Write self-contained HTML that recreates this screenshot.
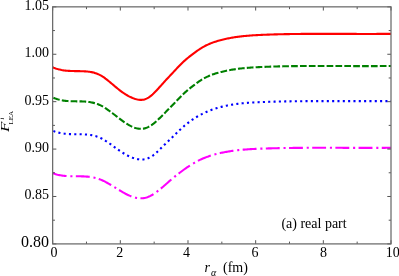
<!DOCTYPE html>
<html><head><meta charset="utf-8">
<style>
html,body{margin:0;padding:0;background:#fff;}
body{width:399px;height:276px;overflow:hidden;font-family:"Liberation Serif",serif;}
svg{display:block;will-change:transform;}
text{font-family:"Liberation Serif",serif;fill:#000;}
</style></head><body>
<svg width="399" height="276" viewBox="0 0 399 276">
<rect x="0" y="0" width="399" height="276" fill="#fff"/>
<g fill="none" stroke-width="2.1" stroke-linejoin="round">
<path d="M52.6,67.29 L53.6,67.71 L54.6,68.10 L55.6,68.46 L56.6,68.79 L57.6,69.09 L58.6,69.36 L59.6,69.60 L60.6,69.82 L61.6,70.02 L62.6,70.19 L63.6,70.35 L64.6,70.48 L65.6,70.60 L66.6,70.70 L67.6,70.78 L68.6,70.85 L69.6,70.91 L70.6,70.96 L71.6,71.00 L72.6,71.03 L73.6,71.06 L74.6,71.08 L75.6,71.10 L76.6,71.11 L77.6,71.13 L78.6,71.14 L79.6,71.16 L80.6,71.18 L81.6,71.21 L82.6,71.24 L83.6,71.28 L84.6,71.33 L85.6,71.39 L86.6,71.47 L87.6,71.56 L88.6,71.67 L89.6,71.81 L90.6,71.96 L91.6,72.15 L92.6,72.36 L93.6,72.60 L94.6,72.88 L95.6,73.19 L96.6,73.54 L97.6,73.93 L98.6,74.37 L99.6,74.85 L100.6,75.37 L101.6,75.95 L102.6,76.57 L103.6,77.22 L104.6,77.91 L105.5,78.64 L106.5,79.39 L107.5,80.17 L108.5,80.97 L109.5,81.78 L110.5,82.61 L111.5,83.45 L112.5,84.30 L113.5,85.15 L114.5,86.00 L115.5,86.84 L116.5,87.67 L117.5,88.49 L118.5,89.30 L119.5,90.09 L120.5,90.85 L121.5,91.59 L122.5,92.31 L123.5,93.00 L124.5,93.67 L125.5,94.31 L126.5,94.92 L127.5,95.51 L128.5,96.06 L129.5,96.58 L130.5,97.08 L131.5,97.53 L132.5,97.96 L133.5,98.35 L134.5,98.70 L135.5,99.02 L136.5,99.30 L137.5,99.53 L138.5,99.71 L139.5,99.83 L140.5,99.90 L141.5,99.89 L142.5,99.81 L143.5,99.65 L144.5,99.41 L145.5,99.07 L146.5,98.65 L147.5,98.13 L148.5,97.54 L149.5,96.87 L150.5,96.13 L151.5,95.33 L152.5,94.47 L153.5,93.56 L154.5,92.60 L155.5,91.60 L156.5,90.57 L157.4,89.50 L158.4,88.42 L159.4,87.32 L160.4,86.20 L161.4,85.08 L162.4,83.96 L163.4,82.85 L164.4,81.75 L165.4,80.65 L166.4,79.57 L167.4,78.50 L168.4,77.43 L169.4,76.36 L170.4,75.30 L171.4,74.24 L172.4,73.17 L173.4,72.11 L174.4,71.04 L175.4,69.97 L176.4,68.90 L177.4,67.84 L178.4,66.79 L179.4,65.76 L180.4,64.74 L181.4,63.74 L182.4,62.76 L183.4,61.81 L184.4,60.89 L185.4,59.99 L186.4,59.12 L187.4,58.27 L188.4,57.44 L189.4,56.64 L190.4,55.84 L191.4,55.07 L192.4,54.31 L193.4,53.56 L194.4,52.83 L195.4,52.10 L196.4,51.38 L197.4,50.68 L198.4,49.99 L199.4,49.32 L200.4,48.67 L201.4,48.04 L202.4,47.44 L203.4,46.87 L204.4,46.32 L205.4,45.80 L206.4,45.30 L207.4,44.83 L208.4,44.37 L209.3,43.94 L210.3,43.52 L211.3,43.12 L212.3,42.74 L213.3,42.38 L214.3,42.04 L215.3,41.70 L216.3,41.39 L217.3,41.08 L218.3,40.79 L219.3,40.51 L220.3,40.24 L221.3,39.97 L222.3,39.72 L223.3,39.47 L224.3,39.24 L225.3,39.01 L226.3,38.79 L227.3,38.58 L228.3,38.38 L229.3,38.18 L230.3,37.99 L231.3,37.81 L232.3,37.64 L233.3,37.47 L234.3,37.31 L235.3,37.16 L236.3,37.01 L237.3,36.87 L238.3,36.74 L239.3,36.61 L240.3,36.48 L241.3,36.37 L242.3,36.25 L243.3,36.15 L244.3,36.04 L245.3,35.95 L246.3,35.85 L247.3,35.77 L248.3,35.68 L249.3,35.60 L250.3,35.53 L251.3,35.45 L252.3,35.38 L253.3,35.32 L254.3,35.26 L255.3,35.20 L256.3,35.14 L257.3,35.09 L258.3,35.04 L259.3,34.99 L260.3,34.94 L261.2,34.89 L262.2,34.85 L263.2,34.81 L264.2,34.77 L265.2,34.73 L266.2,34.69 L267.2,34.65 L268.2,34.62 L269.2,34.58 L270.2,34.55 L271.2,34.52 L272.2,34.48 L273.2,34.45 L274.2,34.42 L275.2,34.39 L276.2,34.37 L277.2,34.34 L278.2,34.31 L279.2,34.29 L280.2,34.26 L281.2,34.24 L282.2,34.22 L283.2,34.19 L284.2,34.17 L285.2,34.15 L286.2,34.13 L287.2,34.11 L288.2,34.09 L289.2,34.08 L290.2,34.06 L291.2,34.04 L292.2,34.03 L293.2,34.01 L294.2,34.00 L295.2,33.99 L296.2,33.97 L297.2,33.96 L298.2,33.95 L299.2,33.94 L300.2,33.93 L301.2,33.92 L302.2,33.91 L303.2,33.90 L304.2,33.90 L305.2,33.89 L306.2,33.88 L307.2,33.88 L308.2,33.87 L309.2,33.87 L310.2,33.86 L311.2,33.86 L312.2,33.85 L313.1,33.85 L314.1,33.85 L315.1,33.84 L316.1,33.84 L317.1,33.84 L318.1,33.84 L319.1,33.84 L320.1,33.84 L321.1,33.84 L322.1,33.84 L323.1,33.84 L324.1,33.84 L325.1,33.84 L326.1,33.84 L327.1,33.84 L328.1,33.84 L329.1,33.84 L330.1,33.84 L331.1,33.85 L332.1,33.85 L333.1,33.85 L334.1,33.85 L335.1,33.86 L336.1,33.86 L337.1,33.86 L338.1,33.87 L339.1,33.87 L340.1,33.87 L341.1,33.88 L342.1,33.88 L343.1,33.88 L344.1,33.89 L345.1,33.89 L346.1,33.89 L347.1,33.90 L348.1,33.90 L349.1,33.90 L350.1,33.91 L351.1,33.91 L352.1,33.91 L353.1,33.92 L354.1,33.92 L355.1,33.92 L356.1,33.92 L357.1,33.93 L358.1,33.93 L359.1,33.93 L360.1,33.93 L361.1,33.93 L362.1,33.94 L363.1,33.94 L364.1,33.94 L365.0,33.94 L366.0,33.94 L367.0,33.94 L368.0,33.94 L369.0,33.94 L370.0,33.94 L371.0,33.94 L372.0,33.94 L373.0,33.93 L374.0,33.93 L375.0,33.93 L376.0,33.93 L377.0,33.92 L378.0,33.92 L379.0,33.92 L380.0,33.91 L381.0,33.91 L382.0,33.90 L383.0,33.89 L384.0,33.89 L385.0,33.88 L386.0,33.87 L387.0,33.86 L388.0,33.86 L389.0,33.85 L390.0,33.84 L391.0,33.83" stroke="#ff0000"/>
<path d="M52.6,97.30 L53.6,97.76 L54.6,98.19 L55.6,98.58 L56.6,98.93 L57.6,99.26 L58.6,99.55 L59.6,99.81 L60.6,100.04 L61.6,100.25 L62.6,100.43 L63.6,100.59 L64.6,100.73 L65.6,100.85 L66.6,100.95 L67.6,101.04 L68.6,101.11 L69.6,101.16 L70.6,101.21 L71.6,101.24 L72.6,101.27 L73.6,101.29 L74.6,101.31 L75.6,101.32 L76.6,101.33 L77.6,101.34 L78.6,101.35 L79.6,101.37 L80.6,101.39 L81.6,101.42 L82.6,101.45 L83.6,101.50 L84.6,101.55 L85.6,101.62 L86.6,101.71 L87.6,101.81 L88.6,101.93 L89.6,102.07 L90.6,102.23 L91.6,102.42 L92.6,102.62 L93.6,102.86 L94.6,103.12 L95.6,103.42 L96.6,103.74 L97.6,104.10 L98.6,104.49 L99.6,104.92 L100.6,105.39 L101.6,105.89 L102.6,106.43 L103.6,107.01 L104.6,107.61 L105.5,108.24 L106.5,108.90 L107.5,109.57 L108.5,110.27 L109.5,110.99 L110.5,111.72 L111.5,112.47 L112.5,113.23 L113.5,113.99 L114.5,114.76 L115.5,115.54 L116.5,116.31 L117.5,117.09 L118.5,117.86 L119.5,118.62 L120.5,119.38 L121.5,120.12 L122.5,120.86 L123.5,121.57 L124.5,122.27 L125.5,122.94 L126.5,123.59 L127.5,124.22 L128.5,124.81 L129.5,125.38 L130.5,125.91 L131.5,126.41 L132.5,126.86 L133.5,127.28 L134.5,127.65 L135.5,127.97 L136.5,128.25 L137.5,128.47 L138.5,128.65 L139.5,128.76 L140.5,128.82 L141.5,128.81 L142.5,128.74 L143.5,128.61 L144.5,128.40 L145.5,128.13 L146.5,127.78 L147.5,127.37 L148.5,126.89 L149.5,126.35 L150.5,125.75 L151.5,125.09 L152.5,124.39 L153.5,123.64 L154.5,122.85 L155.5,122.02 L156.5,121.16 L157.4,120.26 L158.4,119.33 L159.4,118.38 L160.4,117.41 L161.4,116.43 L162.4,115.43 L163.4,114.42 L164.4,113.40 L165.4,112.38 L166.4,111.36 L167.4,110.33 L168.4,109.30 L169.4,108.28 L170.4,107.25 L171.4,106.22 L172.4,105.20 L173.4,104.18 L174.4,103.16 L175.4,102.15 L176.4,101.13 L177.4,100.11 L178.4,99.08 L179.4,98.04 L180.4,97.01 L181.4,95.99 L182.4,94.99 L183.4,94.01 L184.4,93.06 L185.4,92.14 L186.4,91.25 L187.4,90.38 L188.4,89.54 L189.4,88.71 L190.4,87.91 L191.4,87.12 L192.4,86.34 L193.4,85.58 L194.4,84.82 L195.4,84.08 L196.4,83.34 L197.4,82.62 L198.4,81.91 L199.4,81.22 L200.4,80.55 L201.4,79.91 L202.4,79.30 L203.4,78.72 L204.4,78.17 L205.4,77.64 L206.4,77.14 L207.4,76.66 L208.4,76.21 L209.3,75.77 L210.3,75.36 L211.3,74.97 L212.3,74.60 L213.3,74.24 L214.3,73.91 L215.3,73.58 L216.3,73.28 L217.3,72.98 L218.3,72.70 L219.3,72.43 L220.3,72.16 L221.3,71.91 L222.3,71.67 L223.3,71.43 L224.3,71.20 L225.3,70.98 L226.3,70.77 L227.3,70.57 L228.3,70.37 L229.3,70.18 L230.3,70.00 L231.3,69.83 L232.3,69.66 L233.3,69.50 L234.3,69.34 L235.3,69.19 L236.3,69.05 L237.3,68.91 L238.3,68.78 L239.3,68.66 L240.3,68.54 L241.3,68.42 L242.3,68.31 L243.3,68.21 L244.3,68.11 L245.3,68.02 L246.3,67.93 L247.3,67.84 L248.3,67.76 L249.3,67.68 L250.3,67.61 L251.3,67.54 L252.3,67.47 L253.3,67.40 L254.3,67.34 L255.3,67.29 L256.3,67.23 L257.3,67.18 L258.3,67.13 L259.3,67.08 L260.3,67.03 L261.2,66.99 L262.2,66.95 L263.2,66.91 L264.2,66.87 L265.2,66.83 L266.2,66.79 L267.2,66.76 L268.2,66.72 L269.2,66.69 L270.2,66.65 L271.2,66.62 L272.2,66.59 L273.2,66.56 L274.2,66.53 L275.2,66.50 L276.2,66.48 L277.2,66.45 L278.2,66.42 L279.2,66.40 L280.2,66.37 L281.2,66.35 L282.2,66.33 L283.2,66.31 L284.2,66.29 L285.2,66.27 L286.2,66.25 L287.2,66.23 L288.2,66.21 L289.2,66.20 L290.2,66.18 L291.2,66.17 L292.2,66.15 L293.2,66.14 L294.2,66.13 L295.2,66.11 L296.2,66.10 L297.2,66.09 L298.2,66.08 L299.2,66.07 L300.2,66.06 L301.2,66.05 L302.2,66.04 L303.2,66.04 L304.2,66.03 L305.2,66.02 L306.2,66.02 L307.2,66.01 L308.2,66.01 L309.2,66.00 L310.2,66.00 L311.2,66.00 L312.2,65.99 L313.1,65.99 L314.1,65.99 L315.1,65.99 L316.1,65.98 L317.1,65.98 L318.1,65.98 L319.1,65.98 L320.1,65.98 L321.1,65.98 L322.1,65.98 L323.1,65.98 L324.1,65.99 L325.1,65.99 L326.1,65.99 L327.1,65.99 L328.1,65.99 L329.1,65.99 L330.1,66.00 L331.1,66.00 L332.1,66.00 L333.1,66.01 L334.1,66.01 L335.1,66.01 L336.1,66.01 L337.1,66.02 L338.1,66.02 L339.1,66.03 L340.1,66.03 L341.1,66.03 L342.1,66.04 L343.1,66.04 L344.1,66.04 L345.1,66.05 L346.1,66.05 L347.1,66.05 L348.1,66.06 L349.1,66.06 L350.1,66.07 L351.1,66.07 L352.1,66.07 L353.1,66.08 L354.1,66.08 L355.1,66.08 L356.1,66.08 L357.1,66.09 L358.1,66.09 L359.1,66.09 L360.1,66.09 L361.1,66.09 L362.1,66.10 L363.1,66.10 L364.1,66.10 L365.0,66.10 L366.0,66.10 L367.0,66.10 L368.0,66.10 L369.0,66.10 L370.0,66.10 L371.0,66.10 L372.0,66.09 L373.0,66.09 L374.0,66.09 L375.0,66.09 L376.0,66.08 L377.0,66.08 L378.0,66.08 L379.0,66.07 L380.0,66.07 L381.0,66.06 L382.0,66.05 L383.0,66.05 L384.0,66.04 L385.0,66.03 L386.0,66.02 L387.0,66.01 L388.0,66.00 L389.0,65.99 L390.0,65.98 L391.0,65.97" stroke="#008000" stroke-dasharray="6.7 2.171" stroke-dashoffset="-0.85"/>
<path d="M52.6,130.60 L53.6,131.01 L54.6,131.39 L55.6,131.74 L56.6,132.06 L57.6,132.35 L58.6,132.61 L59.6,132.85 L60.6,133.06 L61.6,133.25 L62.6,133.42 L63.6,133.56 L64.6,133.69 L65.6,133.80 L66.6,133.89 L67.6,133.97 L68.6,134.04 L69.6,134.09 L70.6,134.14 L71.6,134.17 L72.6,134.20 L73.6,134.22 L74.6,134.23 L75.6,134.24 L76.6,134.25 L77.6,134.26 L78.6,134.27 L79.6,134.29 L80.6,134.30 L81.6,134.32 L82.6,134.35 L83.6,134.38 L84.6,134.43 L85.6,134.48 L86.6,134.55 L87.6,134.64 L88.6,134.74 L89.6,134.86 L90.6,135.00 L91.6,135.16 L92.6,135.35 L93.6,135.56 L94.6,135.81 L95.6,136.08 L96.6,136.39 L97.6,136.73 L98.6,137.11 L99.6,137.52 L100.6,137.98 L101.6,138.47 L102.6,139.00 L103.6,139.57 L104.6,140.16 L105.5,140.78 L106.5,141.43 L107.5,142.10 L108.5,142.78 L109.5,143.49 L110.5,144.20 L111.5,144.92 L112.5,145.65 L113.5,146.38 L114.5,147.11 L115.5,147.84 L116.5,148.56 L117.5,149.28 L118.5,149.98 L119.5,150.66 L120.5,151.33 L121.5,151.99 L122.5,152.62 L123.5,153.23 L124.5,153.82 L125.5,154.39 L126.5,154.94 L127.5,155.46 L128.5,155.95 L129.5,156.42 L130.5,156.87 L131.5,157.28 L132.5,157.67 L133.5,158.03 L134.5,158.35 L135.5,158.65 L136.5,158.90 L137.5,159.13 L138.5,159.30 L139.5,159.44 L140.5,159.52 L141.5,159.56 L142.5,159.54 L143.5,159.45 L144.5,159.31 L145.5,159.10 L146.5,158.82 L147.5,158.47 L148.5,158.06 L149.5,157.58 L150.5,157.04 L151.5,156.44 L152.5,155.78 L153.5,155.07 L154.5,154.30 L155.5,153.47 L156.5,152.61 L157.4,151.70 L158.4,150.76 L159.4,149.80 L160.4,148.82 L161.4,147.83 L162.4,146.84 L163.4,145.85 L164.4,144.87 L165.4,143.90 L166.4,142.93 L167.4,141.97 L168.4,141.01 L169.4,140.06 L170.4,139.10 L171.4,138.14 L172.4,137.18 L173.4,136.21 L174.4,135.24 L175.4,134.26 L176.4,133.28 L177.4,132.30 L178.4,131.34 L179.4,130.37 L180.4,129.43 L181.4,128.49 L182.4,127.58 L183.4,126.69 L184.4,125.82 L185.4,124.98 L186.4,124.15 L187.4,123.36 L188.4,122.58 L189.4,121.82 L190.4,121.09 L191.4,120.38 L192.4,119.69 L193.4,119.01 L194.4,118.36 L195.4,117.73 L196.4,117.12 L197.4,116.52 L198.4,115.95 L199.4,115.39 L200.4,114.85 L201.4,114.33 L202.4,113.82 L203.4,113.33 L204.4,112.86 L205.4,112.40 L206.4,111.96 L207.4,111.53 L208.4,111.11 L209.3,110.72 L210.3,110.33 L211.3,109.96 L212.3,109.60 L213.3,109.25 L214.3,108.92 L215.3,108.60 L216.3,108.28 L217.3,107.98 L218.3,107.69 L219.3,107.42 L220.3,107.15 L221.3,106.89 L222.3,106.64 L223.3,106.40 L224.3,106.16 L225.3,105.94 L226.3,105.72 L227.3,105.52 L228.3,105.32 L229.3,105.13 L230.3,104.95 L231.3,104.77 L232.3,104.60 L233.3,104.44 L234.3,104.29 L235.3,104.14 L236.3,104.00 L237.3,103.87 L238.3,103.74 L239.3,103.62 L240.3,103.50 L241.3,103.39 L242.3,103.29 L243.3,103.19 L244.3,103.09 L245.3,103.00 L246.3,102.92 L247.3,102.84 L248.3,102.76 L249.3,102.69 L250.3,102.62 L251.3,102.55 L252.3,102.49 L253.3,102.43 L254.3,102.38 L255.3,102.33 L256.3,102.28 L257.3,102.23 L258.3,102.19 L259.3,102.14 L260.3,102.10 L261.2,102.07 L262.2,102.03 L263.2,101.99 L264.2,101.96 L265.2,101.92 L266.2,101.89 L267.2,101.86 L268.2,101.83 L269.2,101.80 L270.2,101.77 L271.2,101.74 L272.2,101.71 L273.2,101.69 L274.2,101.66 L275.2,101.63 L276.2,101.61 L277.2,101.58 L278.2,101.56 L279.2,101.54 L280.2,101.52 L281.2,101.49 L282.2,101.47 L283.2,101.45 L284.2,101.43 L285.2,101.41 L286.2,101.40 L287.2,101.38 L288.2,101.36 L289.2,101.35 L290.2,101.33 L291.2,101.31 L292.2,101.30 L293.2,101.29 L294.2,101.27 L295.2,101.26 L296.2,101.25 L297.2,101.24 L298.2,101.22 L299.2,101.21 L300.2,101.20 L301.2,101.19 L302.2,101.18 L303.2,101.17 L304.2,101.17 L305.2,101.16 L306.2,101.15 L307.2,101.14 L308.2,101.14 L309.2,101.13 L310.2,101.12 L311.2,101.12 L312.2,101.11 L313.1,101.11 L314.1,101.10 L315.1,101.10 L316.1,101.10 L317.1,101.09 L318.1,101.09 L319.1,101.09 L320.1,101.09 L321.1,101.08 L322.1,101.08 L323.1,101.08 L324.1,101.08 L325.1,101.08 L326.1,101.08 L327.1,101.08 L328.1,101.08 L329.1,101.08 L330.1,101.08 L331.1,101.08 L332.1,101.08 L333.1,101.08 L334.1,101.08 L335.1,101.08 L336.1,101.08 L337.1,101.08 L338.1,101.08 L339.1,101.08 L340.1,101.09 L341.1,101.09 L342.1,101.09 L343.1,101.09 L344.1,101.09 L345.1,101.10 L346.1,101.10 L347.1,101.10 L348.1,101.10 L349.1,101.10 L350.1,101.11 L351.1,101.11 L352.1,101.11 L353.1,101.11 L354.1,101.12 L355.1,101.12 L356.1,101.12 L357.1,101.12 L358.1,101.12 L359.1,101.13 L360.1,101.13 L361.1,101.13 L362.1,101.13 L363.1,101.13 L364.1,101.14 L365.0,101.14 L366.0,101.14 L367.0,101.14 L368.0,101.14 L369.0,101.14 L370.0,101.14 L371.0,101.14 L372.0,101.14 L373.0,101.14 L374.0,101.14 L375.0,101.14 L376.0,101.14 L377.0,101.14 L378.0,101.14 L379.0,101.14 L380.0,101.14 L381.0,101.13 L382.0,101.13 L383.0,101.13 L384.0,101.13 L385.0,101.12 L386.0,101.12 L387.0,101.12 L388.0,101.11 L389.0,101.11 L390.0,101.10 L391.0,101.10" stroke="#0000ff" stroke-dasharray="2.1 3.2275" stroke-dashoffset="-0.8"/>
<path d="M52.6,173.12 L53.6,173.49 L54.6,173.84 L55.6,174.15 L56.6,174.44 L57.6,174.70 L58.6,174.93 L59.6,175.14 L60.6,175.32 L61.6,175.48 L62.6,175.63 L63.6,175.75 L64.6,175.86 L65.6,175.95 L66.6,176.02 L67.6,176.09 L68.6,176.14 L69.6,176.18 L70.6,176.21 L71.6,176.23 L72.6,176.25 L73.6,176.26 L74.6,176.27 L75.6,176.27 L76.6,176.28 L77.6,176.28 L78.6,176.29 L79.6,176.30 L80.6,176.31 L81.6,176.33 L82.6,176.36 L83.6,176.40 L84.6,176.45 L85.6,176.51 L86.6,176.58 L87.6,176.66 L88.6,176.76 L89.6,176.88 L90.6,177.01 L91.6,177.17 L92.6,177.34 L93.6,177.54 L94.6,177.76 L95.6,178.00 L96.6,178.27 L97.6,178.56 L98.6,178.88 L99.6,179.23 L100.6,179.62 L101.6,180.03 L102.6,180.47 L103.6,180.93 L104.6,181.42 L105.5,181.93 L106.5,182.46 L107.5,183.01 L108.5,183.57 L109.5,184.15 L110.5,184.74 L111.5,185.34 L112.5,185.95 L113.5,186.56 L114.5,187.18 L115.5,187.80 L116.5,188.42 L117.5,189.04 L118.5,189.66 L119.5,190.27 L120.5,190.87 L121.5,191.47 L122.5,192.05 L123.5,192.62 L124.5,193.17 L125.5,193.71 L126.5,194.22 L127.5,194.72 L128.5,195.19 L129.5,195.64 L130.5,196.06 L131.5,196.45 L132.5,196.81 L133.5,197.13 L134.5,197.42 L135.5,197.68 L136.5,197.89 L137.5,198.07 L138.5,198.20 L139.5,198.28 L140.5,198.32 L141.5,198.32 L142.5,198.26 L143.5,198.14 L144.5,197.98 L145.5,197.75 L146.5,197.47 L147.5,197.14 L148.5,196.75 L149.5,196.32 L150.5,195.83 L151.5,195.30 L152.5,194.73 L153.5,194.12 L154.5,193.48 L155.5,192.80 L156.5,192.09 L157.4,191.35 L158.4,190.58 L159.4,189.79 L160.4,188.98 L161.4,188.15 L162.4,187.30 L163.4,186.44 L164.4,185.57 L165.4,184.69 L166.4,183.81 L167.4,182.92 L168.4,182.04 L169.4,181.16 L170.4,180.28 L171.4,179.42 L172.4,178.57 L173.4,177.73 L174.4,176.91 L175.4,176.11 L176.4,175.31 L177.4,174.53 L178.4,173.75 L179.4,172.98 L180.4,172.22 L181.4,171.47 L182.4,170.72 L183.4,169.99 L184.4,169.27 L185.4,168.57 L186.4,167.87 L187.4,167.19 L188.4,166.52 L189.4,165.87 L190.4,165.23 L191.4,164.60 L192.4,163.99 L193.4,163.40 L194.4,162.82 L195.4,162.25 L196.4,161.70 L197.4,161.17 L198.4,160.65 L199.4,160.15 L200.4,159.67 L201.4,159.20 L202.4,158.75 L203.4,158.32 L204.4,157.91 L205.4,157.51 L206.4,157.12 L207.4,156.75 L208.4,156.40 L209.3,156.05 L210.3,155.73 L211.3,155.41 L212.3,155.11 L213.3,154.81 L214.3,154.53 L215.3,154.26 L216.3,154.00 L217.3,153.75 L218.3,153.51 L219.3,153.28 L220.3,153.06 L221.3,152.84 L222.3,152.63 L223.3,152.43 L224.3,152.23 L225.3,152.04 L226.3,151.86 L227.3,151.69 L228.3,151.52 L229.3,151.36 L230.3,151.20 L231.3,151.05 L232.3,150.91 L233.3,150.77 L234.3,150.64 L235.3,150.51 L236.3,150.39 L237.3,150.27 L238.3,150.16 L239.3,150.05 L240.3,149.95 L241.3,149.85 L242.3,149.76 L243.3,149.67 L244.3,149.59 L245.3,149.51 L246.3,149.43 L247.3,149.36 L248.3,149.29 L249.3,149.22 L250.3,149.16 L251.3,149.10 L252.3,149.04 L253.3,148.99 L254.3,148.94 L255.3,148.89 L256.3,148.84 L257.3,148.80 L258.3,148.75 L259.3,148.71 L260.3,148.67 L261.2,148.64 L262.2,148.60 L263.2,148.57 L264.2,148.53 L265.2,148.50 L266.2,148.47 L267.2,148.44 L268.2,148.41 L269.2,148.38 L270.2,148.35 L271.2,148.33 L272.2,148.30 L273.2,148.27 L274.2,148.25 L275.2,148.22 L276.2,148.20 L277.2,148.18 L278.2,148.16 L279.2,148.14 L280.2,148.12 L281.2,148.10 L282.2,148.08 L283.2,148.06 L284.2,148.04 L285.2,148.03 L286.2,148.01 L287.2,147.99 L288.2,147.98 L289.2,147.97 L290.2,147.95 L291.2,147.94 L292.2,147.93 L293.2,147.92 L294.2,147.90 L295.2,147.89 L296.2,147.88 L297.2,147.87 L298.2,147.87 L299.2,147.86 L300.2,147.85 L301.2,147.84 L302.2,147.83 L303.2,147.83 L304.2,147.82 L305.2,147.82 L306.2,147.81 L307.2,147.81 L308.2,147.80 L309.2,147.80 L310.2,147.80 L311.2,147.79 L312.2,147.79 L313.1,147.79 L314.1,147.79 L315.1,147.78 L316.1,147.78 L317.1,147.78 L318.1,147.78 L319.1,147.78 L320.1,147.78 L321.1,147.78 L322.1,147.78 L323.1,147.78 L324.1,147.78 L325.1,147.78 L326.1,147.78 L327.1,147.79 L328.1,147.79 L329.1,147.79 L330.1,147.79 L331.1,147.79 L332.1,147.80 L333.1,147.80 L334.1,147.80 L335.1,147.80 L336.1,147.81 L337.1,147.81 L338.1,147.81 L339.1,147.81 L340.1,147.82 L341.1,147.82 L342.1,147.82 L343.1,147.83 L344.1,147.83 L345.1,147.83 L346.1,147.84 L347.1,147.84 L348.1,147.84 L349.1,147.85 L350.1,147.85 L351.1,147.85 L352.1,147.85 L353.1,147.86 L354.1,147.86 L355.1,147.86 L356.1,147.86 L357.1,147.87 L358.1,147.87 L359.1,147.87 L360.1,147.87 L361.1,147.87 L362.1,147.88 L363.1,147.88 L364.1,147.88 L365.0,147.88 L366.0,147.88 L367.0,147.88 L368.0,147.88 L369.0,147.88 L370.0,147.88 L371.0,147.88 L372.0,147.88 L373.0,147.87 L374.0,147.87 L375.0,147.87 L376.0,147.87 L377.0,147.86 L378.0,147.86 L379.0,147.86 L380.0,147.85 L381.0,147.85 L382.0,147.84 L383.0,147.84 L384.0,147.83 L385.0,147.83 L386.0,147.82 L387.0,147.81 L388.0,147.81 L389.0,147.80 L390.0,147.79 L391.0,147.78" stroke="#ff00ff" stroke-dasharray="13.9 3.8 2.1 3.39" stroke-dashoffset="-0.4"/>
</g>
<g stroke="#2a2a2a" stroke-width="0.8" fill="none">
<line x1="52.65" y1="6.85" x2="56.35" y2="6.85"/><line x1="391.0" y1="6.85" x2="387.3" y2="6.85"/><line x1="52.65" y1="54.26" x2="56.35" y2="54.26"/><line x1="391.0" y1="54.26" x2="387.3" y2="54.26"/><line x1="52.65" y1="101.67" x2="56.35" y2="101.67"/><line x1="391.0" y1="101.67" x2="387.3" y2="101.67"/><line x1="52.65" y1="149.08" x2="56.35" y2="149.08"/><line x1="391.0" y1="149.08" x2="387.3" y2="149.08"/><line x1="52.65" y1="196.49" x2="56.35" y2="196.49"/><line x1="391.0" y1="196.49" x2="387.3" y2="196.49"/><line x1="52.65" y1="243.90" x2="56.35" y2="243.90"/><line x1="391.0" y1="243.90" x2="387.3" y2="243.90"/><line x1="52.65" y1="30.55" x2="54.949999999999996" y2="30.55"/><line x1="391.0" y1="30.55" x2="388.7" y2="30.55"/><line x1="52.65" y1="77.97" x2="54.949999999999996" y2="77.97"/><line x1="391.0" y1="77.97" x2="388.7" y2="77.97"/><line x1="52.65" y1="125.38" x2="54.949999999999996" y2="125.38"/><line x1="391.0" y1="125.38" x2="388.7" y2="125.38"/><line x1="52.65" y1="172.78" x2="54.949999999999996" y2="172.78"/><line x1="391.0" y1="172.78" x2="388.7" y2="172.78"/><line x1="52.65" y1="220.20" x2="54.949999999999996" y2="220.20"/><line x1="391.0" y1="220.20" x2="388.7" y2="220.20"/><line x1="52.65" y1="243.9" x2="52.65" y2="240.20000000000002"/><line x1="52.65" y1="6.85" x2="52.65" y2="10.55"/><line x1="120.32" y1="243.9" x2="120.32" y2="240.20000000000002"/><line x1="120.32" y1="6.85" x2="120.32" y2="10.55"/><line x1="187.99" y1="243.9" x2="187.99" y2="240.20000000000002"/><line x1="187.99" y1="6.85" x2="187.99" y2="10.55"/><line x1="255.66" y1="243.9" x2="255.66" y2="240.20000000000002"/><line x1="255.66" y1="6.85" x2="255.66" y2="10.55"/><line x1="323.33" y1="243.9" x2="323.33" y2="240.20000000000002"/><line x1="323.33" y1="6.85" x2="323.33" y2="10.55"/><line x1="391.00" y1="243.9" x2="391.00" y2="240.20000000000002"/><line x1="391.00" y1="6.85" x2="391.00" y2="10.55"/><line x1="86.48" y1="243.9" x2="86.48" y2="241.6"/><line x1="86.48" y1="6.85" x2="86.48" y2="9.149999999999999"/><line x1="154.16" y1="243.9" x2="154.16" y2="241.6"/><line x1="154.16" y1="6.85" x2="154.16" y2="9.149999999999999"/><line x1="221.83" y1="243.9" x2="221.83" y2="241.6"/><line x1="221.83" y1="6.85" x2="221.83" y2="9.149999999999999"/><line x1="289.50" y1="243.9" x2="289.50" y2="241.6"/><line x1="289.50" y1="6.85" x2="289.50" y2="9.149999999999999"/><line x1="357.16" y1="243.9" x2="357.16" y2="241.6"/><line x1="357.16" y1="6.85" x2="357.16" y2="9.149999999999999"/>
</g>
<rect x="52.65" y="6.85" width="338.35" height="237.05" stroke="#6a6a6a" stroke-width="1.25" fill="none"/>
<text x="48.9" y="9.75" text-anchor="end" font-size="14">1.05</text>
<text x="48.9" y="57.16" text-anchor="end" font-size="14">1.00</text>
<text x="48.9" y="104.57" text-anchor="end" font-size="14">0.95</text>
<text x="48.9" y="151.98" text-anchor="end" font-size="14">0.90</text>
<text x="48.9" y="199.39" text-anchor="end" font-size="14">0.85</text>
<text x="48.9" y="246.8" text-anchor="end" font-size="16">0.80</text>

<text x="53.90" y="256.8" text-anchor="middle" font-size="14">0</text>
<text x="119.65" y="256.8" text-anchor="middle" font-size="14">2</text>
<text x="186.60" y="256.8" text-anchor="middle" font-size="14">4</text>
<text x="254.95" y="256.8" text-anchor="middle" font-size="14">6</text>
<text x="323.45" y="256.8" text-anchor="middle" font-size="14">8</text>
<text x="392.70" y="256.8" text-anchor="middle" font-size="14">10</text>

<text x="204.6" y="271.6" font-size="14" font-style="italic">r</text>
<text x="210.9" y="275.7" font-size="10" font-style="italic">α</text>
<text x="223" y="271.6" font-size="14">(fm)</text>
<text x="281.4" y="227.6" font-size="14">(a) real part</text>
<g transform="translate(8.5,132.0) rotate(-90)">
<text x="0" y="0" font-size="12.5" font-style="italic" transform="scale(1.35,1)">F</text>
<text x="7.4" y="4.3" font-size="7.1">LEA</text>
<text x="12.6" y="-5" font-size="6.5" font-style="italic">i</text>
</g>
</svg>
</body></html>
